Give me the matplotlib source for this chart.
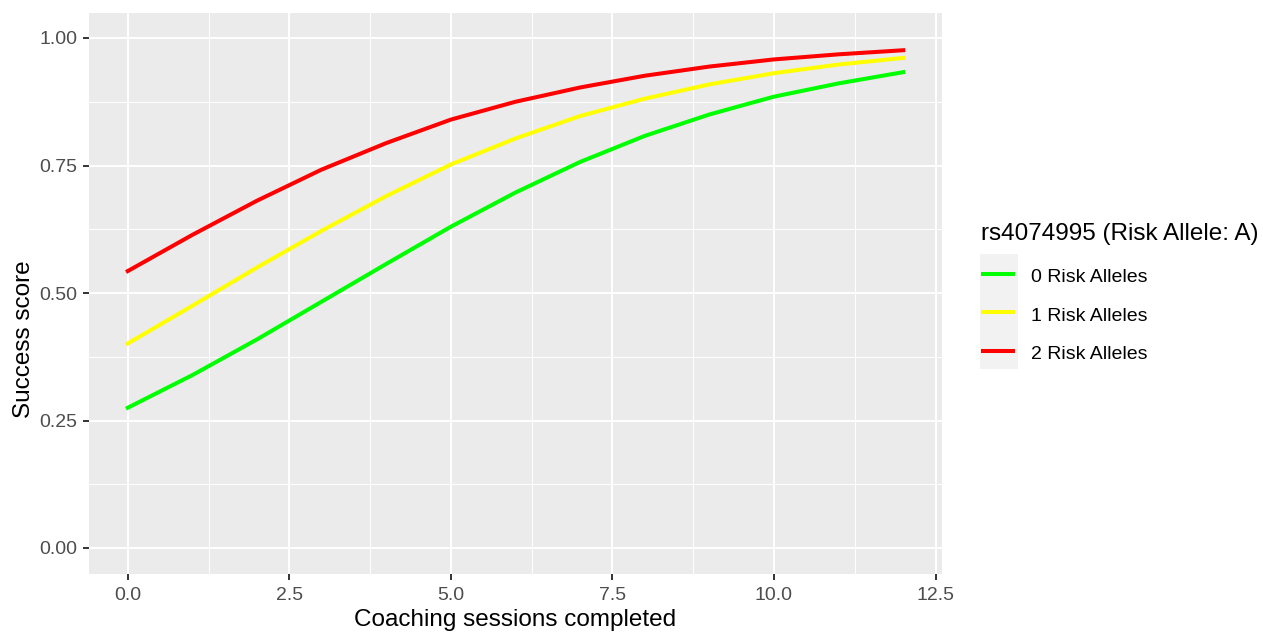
import matplotlib.pyplot as plt
from matplotlib.patches import Rectangle
from matplotlib.lines import Line2D

plt.rcParams['font.family'] = ['Liberation Sans', 'DejaVu Sans']

# values
sessions = [0, 1, 2, 3, 4, 5, 6, 7, 8, 9, 10, 11, 12]
score_0 = [0.275, 0.339, 0.409, 0.483, 0.557, 0.630, 0.697, 0.757, 0.808, 0.850, 0.885, 0.911, 0.933]
score_1 = [0.401, 0.475, 0.550, 0.622, 0.690, 0.752, 0.803, 0.847, 0.881, 0.909, 0.931, 0.948, 0.961]
score_2 = [0.543, 0.614, 0.681, 0.742, 0.794, 0.840, 0.875, 0.903, 0.926, 0.944, 0.958, 0.968, 0.976]
labels = ['0 Risk Alleles', '1 Risk Alleles', '2 Risk Alleles']
colors = ['#00FF00', '#FFFF00', '#FF0000']

W, H = 1263, 632
fig = plt.figure(figsize=(W / 100, H / 100), dpi=100)
ax = fig.add_axes([89 / W, 1 - 573.5 / H, (942 - 89) / W, (573.5 - 12.5) / H])
ax.set_facecolor('#EBEBEB')

for ys, lab, c in zip([score_0, score_1, score_2], labels, colors):
    ax.plot(sessions, ys, color=c, lw=2.9, label=lab)

ax.set_xlim(-0.6, 12.6)
ax.set_ylim(-0.05, 1.05)
ax.set_xticks([0, 2.5, 5, 7.5, 10, 12.5])
ax.set_xticklabels(['0.0', '2.5', '5.0', '7.5', '10.0', '12.5'])
ax.set_yticks([0, 0.25, 0.5, 0.75, 1.0])
ax.set_yticklabels(['0.00', '0.25', '0.50', '0.75', '1.00'])
ax.set_xticks([1.25, 3.75, 6.25, 8.75, 11.25], minor=True)
ax.set_yticks([0.125, 0.375, 0.625, 0.875], minor=True)
ax.grid(which='major', color='white', lw=1.4)
ax.grid(which='minor', color='white', lw=0.7)
ax.set_axisbelow(True)
for s in ax.spines.values():
    s.set_visible(False)
ax.tick_params(which='major', length=4.5, width=1.4, color='#333333', labelcolor='#4D4D4D',
               labelsize=14)
ax.tick_params(axis='x', which='major', pad=5)
ax.tick_params(axis='y', which='major', pad=4)
ax.tick_params(which='minor', length=0)

# axis titles
fig.text(515.5 / W, 1 - 626 / H, 'Coaching sessions completed', fontsize=17.5,
         ha='center', va='baseline')
fig.text(24 / W, 293 / H, 'Success score', fontsize=17.5, rotation=90,
         ha='center', va='center')

# legend, laid out like the ggplot guide
fig.text(981 / W, 1 - 240 / H, 'rs4074995 (Risk Allele: A)', fontsize=17.5,
         ha='left', va='baseline')
fig.patches.append(Rectangle((980 / W, 1 - 369 / H), 38 / W, 115 / H, zorder=0,
                             transform=fig.transFigure, facecolor='#F2F2F2', edgecolor='none'))
key_y = [273.5, 312, 350.5]
text_y = [282, 321, 359]
for lab, c, ky, ty in zip(labels, colors, key_y, text_y):
    fig.lines.append(Line2D([983 / W, 1013 / W], [1 - ky / H, 1 - ky / H], color=c, lw=2.9,
                            transform=fig.transFigure, zorder=2))
    fig.text(1031 / W, 1 - ty / H, lab, fontsize=14, ha='left', va='baseline')

fig.savefig('out.png', dpi=100)
